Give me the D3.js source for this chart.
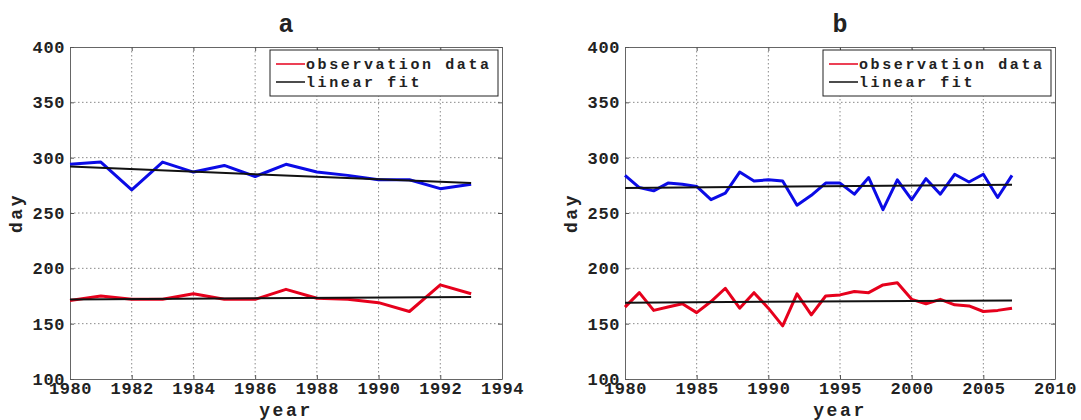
<!DOCTYPE html>
<html>
<head>
<meta charset="utf-8">
<script src="https://cdn.jsdelivr.net/npm/d3@7"></script>
<style>
    body { margin: 0; background: #fff; }
    text { font-family: "Liberation Mono", "DejaVu Sans Mono", monospace; font-weight: bold; fill: #222; }
    .grid line { stroke: #8a8a8a; stroke-width: 1; stroke-dasharray: 1.5,2.5; }
</style>
</head>
<body>
<div id="container-chart"></div>
<script>

//// DATA ///////////////////////////////////////////////////////////////////////
var yearsA = d3.range(1980, 1994),
    yearsB = d3.range(1980, 2008);

var blueA = [294, 296, 271, 296, 287, 293, 283, 294, 287, 284, 280, 280, 272, 276];
var redA  = [171, 175, 172, 172, 177, 172, 172, 181, 173, 172, 169, 161, 185, 177];
var fitBlueA = [292, 277],
    fitRedA  = [171.8, 174.2];

var blueB = [284, 273, 270, 277, 276, 274, 262, 268, 287, 279, 280, 279, 257, 266,
             277, 277, 267, 282, 253, 280, 262, 281, 267, 285, 278, 285, 264, 284];
var redB  = [165, 178, 162, 165, 168, 160, 170, 182, 164, 178, 164, 148, 177, 158,
             175, 176, 179, 178, 185, 187, 172, 168, 172, 167, 166, 161, 162, 164];
var fitBlueB = [272.7, 275.5],
    fitRedB  = [169, 171];

var yTicks  = d3.range(100, 401, 50),
    xTicksA = d3.range(1980, 1995, 2),
    xTicksB = d3.range(1980, 2011, 5);

var legendLabels = ["observation data", "linear fit"];


//// SETTINGS ///////////////////////////////////////////////////////////////////
var width = 1081,
    height = 420;

var plot_top = 47,
    plot_bottom = 379;

var blue = "#0b0be6",
    red = "#e6001c";

var svg = d3.select("#container-chart").append("svg")
            .attr("width", width)
            .attr("height", height);

function draw_panel(left, right, title, years, xDomain, xTicks, blueVals, redVals, fitBlue, fitRed) {
    var x = d3.scaleLinear().domain(xDomain).range([left, right]);
    var y = d3.scaleLinear().domain([100, 400]).range([plot_bottom, plot_top]);

    // Dotted grid at every inner tick.
    var grid = svg.append("g").attr("class", "grid");
    grid.selectAll(".gx").data(xTicks.slice(1, -1)).enter().append("line")
        .attr("x1", function(d) { return x(d); })
        .attr("x2", function(d) { return x(d); })
        .attr("y1", plot_top).attr("y2", plot_bottom);
    grid.selectAll(".gy").data(yTicks.slice(1, -1)).enter().append("line")
        .attr("y1", function(d) { return y(d); })
        .attr("y2", function(d) { return y(d); })
        .attr("x1", left).attr("x2", right);

    // Axes with inward ticks, drawn on all four sides like a boxed plot.
    var tickSize = 4;
    var axisStyle = function(g) {
        g.select(".domain").attr("stroke", "#666");
        g.selectAll(".tick line").attr("stroke", "#555");
        g.selectAll("text").style("font-size", "17px").style("letter-spacing", "0.6px")
            .attr("fill", "#222");
    };

    svg.append("g")
        .attr("transform", "translate(0," + plot_bottom + ")")
        .call(d3.axisBottom(x).tickValues(xTicks).tickFormat(d3.format("d"))
                .tickSizeInner(-tickSize).tickSizeOuter(0).tickPadding(3))
        .call(axisStyle);
    svg.append("g")
        .attr("transform", "translate(0," + plot_top + ")")
        .call(d3.axisTop(x).tickValues(xTicks).tickFormat("")
                .tickSizeInner(-tickSize).tickSizeOuter(0))
        .call(axisStyle);
    svg.append("g")
        .attr("transform", "translate(" + left + ",0)")
        .call(d3.axisLeft(y).tickValues(yTicks)
                .tickSizeInner(-tickSize).tickSizeOuter(0).tickPadding(5))
        .call(axisStyle);
    svg.append("g")
        .attr("transform", "translate(" + right + ",0)")
        .call(d3.axisRight(y).tickValues(yTicks).tickFormat("")
                .tickSizeInner(-tickSize).tickSizeOuter(0))
        .call(axisStyle);

    // Observation series and their linear fits.
    var line = d3.line()
        .x(function(d, i) { return x(years[i]); })
        .y(function(d) { return y(d); });

    var first = years[0], last = years[years.length - 1];
    var fitLine = d3.line()
        .x(function(d, i) { return x(i ? last : first); })
        .y(function(d) { return y(d); });

    [[blueVals, blue], [redVals, red]].forEach(function(s) {
        svg.append("path")
            .attr("d", line(s[0]))
            .attr("fill", "none")
            .attr("stroke", s[1])
            .attr("stroke-width", 3)
            .attr("stroke-linejoin", "round");
    });
    [fitBlue, fitRed].forEach(function(f) {
        svg.append("path")
            .attr("d", fitLine(f))
            .attr("fill", "none")
            .attr("stroke", "#111")
            .attr("stroke-width", 2);
    });

    // Legend box in the upper right corner.
    var lw = 228, lh = 46;
    var lx = right - 4 - lw, ly = plot_top + 3;
    var legend = svg.append("g").attr("transform", "translate(" + lx + "," + ly + ")");
    legend.append("rect")
        .attr("width", lw).attr("height", lh)
        .attr("fill", "#fff").attr("stroke", "#222").attr("stroke-width", 1);
    legendLabels.forEach(function(label, i) {
        var cy = 14 + i * 18;
        legend.append("line")
            .attr("x1", 6).attr("x2", 35)
            .attr("y1", cy).attr("y2", cy)
            .attr("stroke", i ? "#111" : red)
            .attr("stroke-width", 1.5);
        legend.append("text")
            .attr("x", 36).attr("y", cy).attr("dy", ".35em")
            .style("font-size", "15px").style("letter-spacing", "2.6px")
            .text(label);
    });

    // Title and axis labels.
    var cx = (left + right) / 2;
    svg.append("text")
        .attr("x", cx).attr("y", 32)
        .style("text-anchor", "middle").style("font-size", "25px")
        .text(title);
    svg.append("text")
        .attr("x", cx).attr("y", 416)
        .style("text-anchor", "middle").style("font-size", "18px").style("letter-spacing", "2.6px")
        .text("year");
    svg.append("text")
        .attr("transform", "translate(" + (left - 48) + "," + ((plot_top + plot_bottom) / 2) + ") rotate(-90)")
        .style("text-anchor", "middle").style("font-size", "18px").style("letter-spacing", "2.6px")
        .text("day");
}

draw_panel(70, 502, "a", yearsA, [1980, 1994], xTicksA, blueA, redA, fitBlueA, fitRedA);
draw_panel(625, 1055, "b", yearsB, [1980, 2010], xTicksB, blueB, redB, fitBlueB, fitRedB);

</script>
</body>
</html>
